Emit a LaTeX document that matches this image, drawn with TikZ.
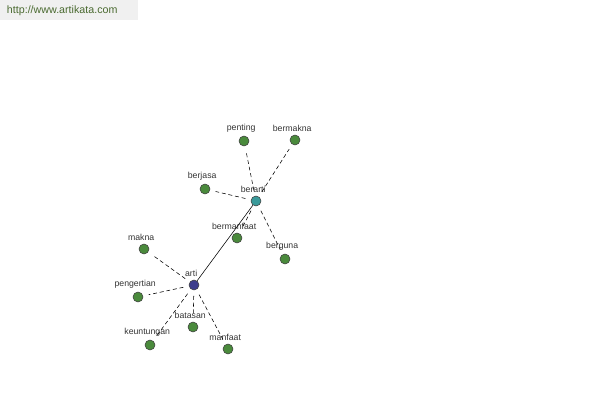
\documentclass[tikz,border=0pt]{standalone}
\usepackage{fontspec}
\setmainfont{Liberation Sans}
\definecolor{daun}{HTML}{4A8A3C}
\definecolor{laut}{HTML}{3A9A9A}
\definecolor{nila}{HTML}{3C3C8C}
\definecolor{situs}{HTML}{4A6A30}
\begin{document}
\begin{tikzpicture}[x=0.025cm,y=-0.025cm,line join=round,font=\fontsize{6.2}{7}\selectfont,
	kata/.style={circle,draw=black!75,fill=daun,minimum size=0.25cm,inner sep=0pt},
	pusat/.style={kata,fill=laut},
	induk/.style={kata,fill=nila},
	tulis/.style={label distance=-1pt,text=black!80,xshift=-2pt},
	garis/.style={dash pattern=on 2.8pt off 2pt,shorten <=0.14cm,shorten >=0.14cm}]
	\useasboundingbox (0,0) rectangle (600,400);
	\fill[black!6] (0,0) rectangle (138,20);
	\node[anchor=west,text=situs,font=\fontsize{7.6}{8}\selectfont] (situs) at (2,11) {http://www.artikata.com};
	% kata utama
	\node[pusat,label={[tulis]above:berarti}] (berarti) at (256,201) {};
	\node[induk,label={[tulis]above:arti}] (arti) at (194,285) {};
	% kata terkait
	\foreach \nama/\x/\y in {penting/244/141,bermakna/295/140,berjasa/205/189,bermanfaat/237/238,berguna/285/259}{
		\node[kata,label={[tulis]above:\nama}] (\nama) at (\x,\y) {};
		\draw[garis] (berarti) -- (\nama);
	}
	\foreach \nama/\x/\y in {makna/144/249,pengertian/138/297,keuntungan/150/345,batasan/193/327,manfaat/228/349}{
		\node[kata,label={[tulis]above:\nama}] (\nama) at (\x,\y) {};
		\draw[garis] (arti) -- (\nama);
	}
	\draw (arti) -- (berarti);
\end{tikzpicture}
\end{document}
